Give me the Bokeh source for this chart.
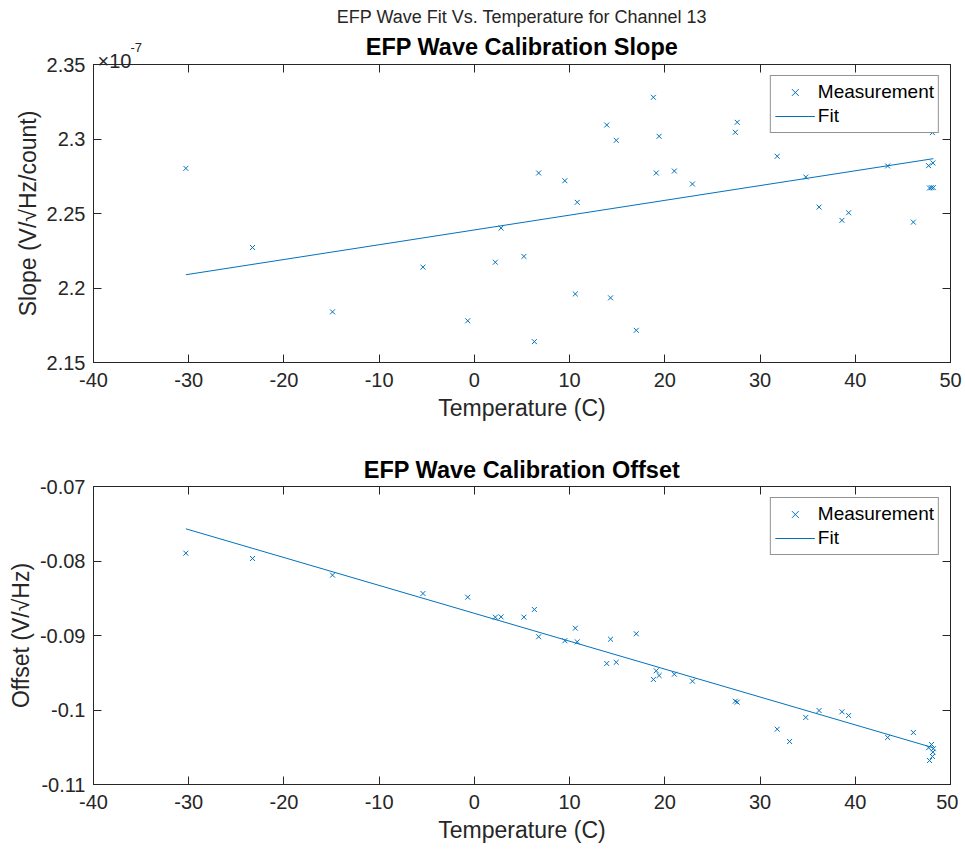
from bokeh.plotting import figure
from bokeh.layouts import column
from bokeh.models import (FixedTicker, LinearAxis, Title, Label, Range1d,
                          CustomJSTickFormatter)
from bokeh.embed import file_html
from bokeh.resources import INLINE

# ---------------- data ----------------
temperature = [-30.3, -23.3, -14.9, -5.4, -0.7, 2.2, 2.8, 5.2, 6.3, 6.75,
               9.5, 10.6, 10.8, 13.9, 14.3, 14.9, 17.0, 18.8, 19.1, 19.4,
               21.0, 22.9, 27.4, 27.6, 31.8, 33.1, 34.8, 36.2, 38.6, 39.3,
               43.4, 46.1, 47.7, 47.8, 48.0, 48.1, 48.15, 48.2]
# slope in units of 1e-7 V/sqrt(Hz)/count
slope = [2.2803, 2.2272, 2.1840, 2.2140, 2.1780, 2.2173, 2.2402, 2.2212, 2.1640, 2.2772,
         2.2720, 2.1960, 2.2575, 2.3094, 2.1934, 2.2991, 2.1716, 2.3280, 2.2772, 2.3018,
         2.2785, 2.2698, 2.3045, 2.3112, 2.2884, float("nan"), 2.2745, 2.2543, 2.2454, 2.2505,
         2.2819, 2.2442, 2.2821, 2.2671, 2.2673, 2.3043, 2.2839, 2.2673]
offset = [-0.07895, -0.07966, -0.0819, -0.08436, -0.08486, -0.08754, -0.0875, -0.08754, -0.08651, -0.09017,
          -0.0907, -0.08902, -0.09085, -0.09376, -0.0905, -0.0936, -0.08977, -0.0959, -0.09474, -0.09537,
          -0.0952, -0.09613, -0.09882, -0.09895, -0.10258, -0.10423, -0.1010, -0.10007, -0.10024, -0.10074,
          -0.10369, -0.10302, -0.10507, -0.10678, -0.10463, -0.10624, -0.10566, -0.1052]

fit_temperature = [-30.3, 48.2]
fit_slope = [2.2089, 2.2868]
fit_offset = [-0.07568, -0.10507]

x_ticks = [-40, -30, -20, -10, 0, 10, 20, 30, 40, 50]
slope_ticks = [2.15, 2.2, 2.25, 2.3, 2.35]
offset_ticks = [-0.11, -0.1, -0.09, -0.08, -0.07]

BLUE = "#0072BD"
AX = "#262626"
FONT = "Liberation Sans"


def num_fmt():
    return CustomJSTickFormatter(code="return String(parseFloat(tick.toFixed(5)));")


def blank_fmt():
    return CustomJSTickFormatter(code="return '';")


def style_axes(p, yticks, xlabel, ylabel):
    xa = p.below[0]
    ya = p.left[0]
    for ax in (xa, ya):
        ax.major_tick_in = 8
        ax.major_tick_out = 0
        ax.minor_tick_line_color = None
        ax.axis_line_color = AX
        ax.major_tick_line_color = AX
        ax.major_label_text_font = FONT
        ax.major_label_text_font_size = "20px"
        ax.major_label_text_color = AX
        ax.axis_label_text_font = FONT
        ax.axis_label_text_font_size = "23px"
        ax.axis_label_text_font_style = "normal"
        ax.axis_label_text_color = AX
        ax.formatter = num_fmt()
    xa.major_label_standoff = 10
    xa.axis_label_standoff = 5
    ya.major_label_standoff = 8
    ya.axis_label_standoff = 3
    xa.ticker = FixedTicker(ticks=x_ticks)
    ya.ticker = FixedTicker(ticks=yticks)
    xa.axis_label = xlabel
    ya.axis_label = ylabel
    p.xgrid.grid_line_color = None
    p.ygrid.grid_line_color = None
    p.outline_line_color = AX
    p.background_fill_color = "white"
    p.border_fill_color = "white"


def mirror_axes(p, yticks):
    top = LinearAxis(ticker=FixedTicker(ticks=x_ticks), formatter=blank_fmt(),
                     major_label_text_color=None, major_label_standoff=0,
                     major_tick_in=8, major_tick_out=0, minor_tick_line_color=None,
                     axis_line_color=AX, major_tick_line_color=AX)
    right = LinearAxis(ticker=FixedTicker(ticks=yticks), formatter=blank_fmt(),
                       major_label_text_color=None, major_label_standoff=0,
                       major_tick_in=8, major_tick_out=0, minor_tick_line_color=None,
                       axis_line_color=AX, major_tick_line_color=AX)
    p.add_layout(top, "above")
    p.add_layout(right, "right")


def style_legend(p):
    lg = p.legend[0]
    lg.location = "top_right"
    lg.margin = 11
    lg.padding = 4
    lg.spacing = 0
    lg.border_line_color = AX
    lg.border_line_width = 1
    lg.label_text_font = FONT
    lg.label_text_font_size = "19px"
    lg.label_text_color = "black"
    lg.glyph_width = 40
    lg.glyph_height = 24
    lg.label_height = 24
    lg.label_standoff = 3
    lg.background_fill_alpha = 1.0


# ---------------- top: slope ----------------
p1 = figure(frame_width=857, frame_height=298, output_backend="svg", toolbar_location=None,
            x_range=Range1d(-40, 50), y_range=Range1d(2.15, 2.35),
            min_border_left=93, min_border_right=8, min_border_top=64, min_border_bottom=88)
p1.title = Title(text="EFP Wave Fit Vs. Temperature for Channel 13", align="center",
                 text_font=FONT, text_font_size="18px", text_font_style="normal",
                 text_color=AX, standoff=0)
style_axes(p1, slope_ticks, "Temperature (C)", "Slope (V/\u221aHz/count)")
mirror_axes(p1, slope_ticks)
p1.add_layout(Title(text="EFP Wave Calibration Slope", align="center", text_font=FONT,
                    text_font_size="23.5px", text_font_style="bold", text_color="black",
                    standoff=10), "above")
# axis exponent: placed in side panels (not clipped to the frame), positioned in data units
p1.add_layout(Label(x=-40, y=2.35, x_offset=4, y_offset=4, text="\u00d710",
                    text_font=FONT, text_font_size="20px", text_color=AX,
                    text_baseline="alphabetic", text_align="left"), "below")
p1.add_layout(Label(x=-40, y=2.35, x_offset=37, y_offset=17, text="-7",
                    text_font=FONT, text_font_size="13px", text_color=AX,
                    text_baseline="alphabetic", text_align="left"), "right")
p1.scatter(temperature, slope, marker="x", size=7, line_width=1, color=BLUE,
           legend_label="Measurement")
p1.line(fit_temperature, fit_slope, line_width=1, color=BLUE, legend_label="Fit")
style_legend(p1)

# ---------------- bottom: offset ----------------
p2 = figure(frame_width=857, frame_height=298, output_backend="svg", toolbar_location=None,
            x_range=Range1d(-40, 50), y_range=Range1d(-0.11, -0.07),
            min_border_left=93, min_border_right=8, min_border_top=36, min_border_bottom=63)
p2.title = Title(text="EFP Wave Calibration Offset", align="center", text_font=FONT,
                 text_font_size="23.5px", text_font_style="bold", text_color="black",
                 standoff=7)
style_axes(p2, offset_ticks, "Temperature (C)", "Offset (V/\u221aHz)")
mirror_axes(p2, offset_ticks)
p2.scatter(temperature, offset, marker="x", size=7, line_width=1, color=BLUE,
           legend_label="Measurement")
p2.line(fit_temperature, fit_offset, line_width=1, color=BLUE, legend_label="Fit")
style_legend(p2)

layout = column(p1, p2, spacing=0)
open("out.html", "w").write(file_html(layout, INLINE))
